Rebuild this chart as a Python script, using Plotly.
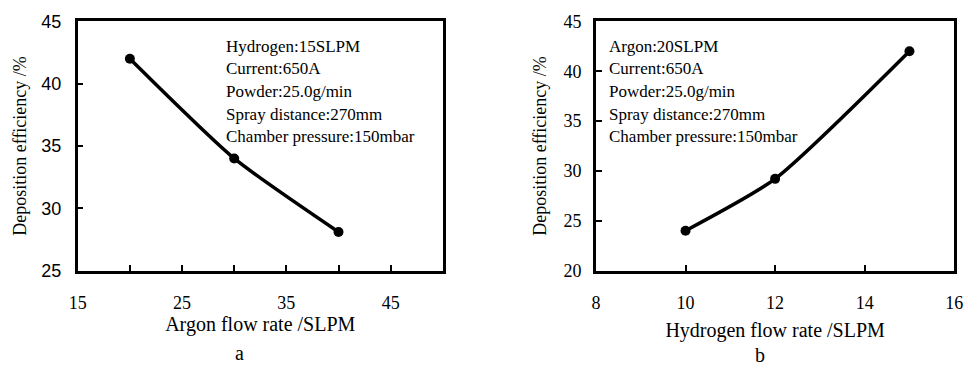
import plotly.graph_objects as go

# Panel a: argon flow rate
argon_flow = [20, 30, 40]
argon_eff = [42.0, 34.0, 28.1]
argon_conditions = ["Hydrogen:15SLPM", "Current:650A", "Powder:25.0g/min",
                    "Spray distance:270mm", "Chamber pressure:150mbar"]

# Panel b: hydrogen flow rate
hydrogen_flow = [10, 12, 15]
hydrogen_eff = [24.0, 29.2, 42.0]
hydrogen_conditions = ["Argon:20SLPM", "Current:650A", "Powder:25.0g/min",
                       "Spray distance:270mm", "Chamber pressure:150mbar"]

y_title = "Deposition efficiency /%"
x_title_a = "Argon flow rate /SLPM"
x_title_b = "Hydrogen flow rate /SLPM"
panel_labels = ["a", "b"]

W, H = 976, 381
SERIF = "Liberation Serif, Times New Roman, serif"
SANS = "Liberation Sans, Arial, sans-serif"

fig = go.Figure()
fig.add_trace(go.Scatter(x=argon_flow, y=argon_eff, mode="lines+markers",
                         line=dict(color="black", width=3.5, shape="spline", smoothing=0.6),
                         marker=dict(color="black", size=10), xaxis="x", yaxis="y",
                         showlegend=False))
fig.add_trace(go.Scatter(x=hydrogen_flow, y=hydrogen_eff, mode="lines+markers",
                         line=dict(color="black", width=3.5, shape="spline", smoothing=0.6),
                         marker=dict(color="black", size=10), xaxis="x2", yaxis="y2",
                         showlegend=False))

ydom = [1 - 275 / H, 1 - 12 / H]
common = dict(showgrid=False, zeroline=False, showline=True, linecolor="black",
              linewidth=2.5, mirror=True, ticks="inside", ticklen=6, tickwidth=2,
              tickcolor="black")

fig.update_layout(
    width=W, height=H, margin=dict(l=0, r=0, t=0, b=0),
    paper_bgcolor="white", plot_bgcolor="white",
    xaxis=dict(domain=[70 / W, 442 / W], range=[15, 50], tickvals=[15, 25, 35, 45],
               minor=dict(dtick=5, tick0=15, ticks="inside", ticklen=6, tickwidth=2,
                          tickcolor="black", showgrid=False),
               tickfont=dict(family=SERIF, size=18, color="black"), ticklabelstandoff=14,
               title=dict(text=x_title_a, font=dict(family=SERIF, size=20, color="black"),
                          standoff=0),
               anchor="y", **common),
    yaxis=dict(domain=ydom, range=[25, 45], dtick=5,
               tickfont=dict(family=SANS, size=18, color="black"), ticklabelstandoff=10,
               title=dict(text=y_title, font=dict(family=SERIF, size=18, color="black"),
                          standoff=11),
               anchor="x", **common),
    xaxis2=dict(domain=[598 / W, 963 / W], range=[8, 16], dtick=2,
                tickfont=dict(family=SERIF, size=18, color="black"), ticklabelstandoff=14,
                title=dict(text=x_title_b, font=dict(family=SERIF, size=20, color="black"),
                           standoff=12),
                anchor="y2", **common),
    yaxis2=dict(domain=ydom, range=[20, 45], dtick=5,
                tickfont=dict(family=SERIF, size=18, color="black"), ticklabelstandoff=8,
                title=dict(text=y_title, font=dict(family=SERIF, size=18, color="black"),
                           standoff=13),
                anchor="x2", **common),
)

annotations = []
line_px = [38, 62, 86, 110, 134]
for i, txt in enumerate(argon_conditions):
    annotations.append(dict(x=219 / W, y=1 - line_px[i] / H, xref="paper", yref="paper",
                            text=txt, showarrow=False, xanchor="left", yanchor="middle",
                            font=dict(family=SERIF, size=17, color="black")))
for i, txt in enumerate(hydrogen_conditions):
    annotations.append(dict(x=609 / W, y=1 - line_px[i] / H, xref="paper", yref="paper",
                            text=txt, showarrow=False, xanchor="left", yanchor="middle",
                            font=dict(family=SERIF, size=17, color="black")))
annotations.append(dict(x=235 / W, y=1 - 362 / H, xref="paper", yref="paper",
                        text=panel_labels[0], showarrow=False, xanchor="center",
                        yanchor="middle", font=dict(family=SERIF, size=20, color="black")))
annotations.append(dict(x=765 / W, y=1 - 364 / H, xref="paper", yref="paper",
                        text=panel_labels[1], showarrow=False, xanchor="center",
                        yanchor="middle", font=dict(family=SERIF, size=20, color="black")))
fig.update_layout(annotations=annotations)

fig.write_html("out.html")
